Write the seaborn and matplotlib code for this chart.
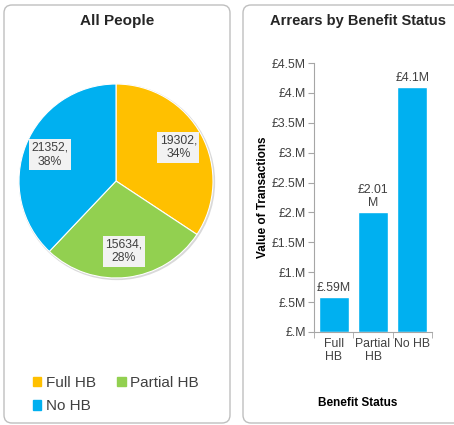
import matplotlib
matplotlib.use("Agg")
import matplotlib.pyplot as plt
import seaborn as sns
from matplotlib.patches import FancyBboxPatch, Patch, Circle
from matplotlib.ticker import FuncFormatter, MultipleLocator, FixedLocator

# data
pie_labels = ["Full HB", "Partial HB", "No HB"]
pie_counts = [19302, 15634, 21352]
pie_colors = ["#FFC000", "#92D050", "#00B0F0"]

bar_categories = ["Full\nHB", "Partial\nHB", "No HB"]
bar_values = [0.59, 2.01, 4.1]  # in £ millions
bar_labels = ["£.59M", "£2.01\nM", "£4.1M"]
bar_color = "#00B0F0"

sns.set_style("white")
plt.rcParams["font.family"] = ["Liberation Sans", "DejaVu Sans"]

W, H = 454, 425
fig = plt.figure(figsize=(W / 100, H / 100), dpi=100)

TXT = "#404040"


def px_rect(x, y_top, w, h):
    # pixel box (top-left origin) -> figure fraction rect
    return [x / W, 1 - (y_top + h) / H, w / W, h / H]


# panel frames
for x0, w in [(4, 226), (243, 230)]:
    box = FancyBboxPatch((x0 / 100, 2 / 100), w / 100, 418 / 100,
                         boxstyle="round,pad=0,rounding_size=0.08",
                         transform=fig.dpi_scale_trans,
                         fc="white", ec="#BFBFBF", lw=1, zorder=0)
    fig.add_artist(box)

# ---- pie panel ----
cx, cy, r = 116, 181, 97
ax1 = fig.add_axes(px_rect(cx - r - 3, cy - r - 3, 2 * r + 6, 2 * r + 6))
total = sum(pie_counts)


def pie_text(pct):
    val = int(round(pct * total / 100))
    return f"{val},\n{pct:.0f}%"


# faint shadow ring like the original
ax1.add_patch(Circle((0.01, -0.01), 1.012, fc="#D9D9D9", ec="none", zorder=0))
wedges, _, autotexts = ax1.pie(
    pie_counts, colors=pie_colors, startangle=90, counterclock=False,
    autopct=pie_text, pctdistance=0.73,
    wedgeprops=dict(edgecolor="white", linewidth=0.8),
)
for t in autotexts:
    t.set_fontsize(8.8)
    t.set_color(TXT)
    t.set_multialignment("center")
    t.set_bbox(dict(boxstyle="square,pad=0.2", fc="#F2F2F2", ec="none"))
lim = (r + 3) / r
ax1.set_xlim(-lim, lim)
ax1.set_ylim(-lim, lim)
ax1.set_aspect("equal")
fig.text(117 / W, 1 - 21 / H, "All People", ha="center", va="center",
         fontsize=11, fontweight="bold", color="#262626")

handles = [Patch(color=c) for c in pie_colors]
order = [0, 2, 1]
fig.legend([handles[i] for i in order], [pie_labels[i] for i in order],
           loc="upper left", bbox_to_anchor=(33 / W, 1 - 376 / H), ncol=2,
           frameon=False, fontsize=11, handlelength=0.55, handleheight=0.55,
           handletextpad=0.3, columnspacing=1.4, borderpad=0, borderaxespad=0,
           labelspacing=0.62, labelcolor=TXT)

# ---- bar panel ----
ax2 = fig.add_axes(px_rect(314, 63, 118, 269))
sns.barplot(x=bar_categories, y=bar_values, color=bar_color, saturation=1,
            width=0.76, ax=ax2)
ax2.bar_label(ax2.containers[0], labels=bar_labels, padding=2,
              fontsize=8.8, color=TXT, linespacing=1.15)
ax2.set_ylim(0, 4.5)
ax2.set_xlim(-0.5, 2.5)
ax2.yaxis.set_major_locator(MultipleLocator(0.5))


def money(v, pos):
    s = f"{v:.1f}".rstrip("0")
    if s.startswith("0"):
        s = s[1:]
    return f"£{s}M"


ax2.yaxis.set_major_formatter(FuncFormatter(money))
ax2.xaxis.set_minor_locator(FixedLocator([-0.5, 0.5, 1.5, 2.5]))
ax2.tick_params(axis="x", which="major", length=0, labelsize=8.8,
                labelcolor=TXT, pad=4)
ax2.tick_params(axis="x", which="minor", length=4, color="#A6A6A6",
                direction="out", bottom=True)
ax2.tick_params(axis="y", length=4, color="#A6A6A6", direction="out",
                left=True, labelsize=8.8, labelcolor=TXT, pad=2)
sns.despine(ax=ax2)
for s in ["left", "bottom"]:
    ax2.spines[s].set_color("#A6A6A6")
ax2.set_facecolor("none")

ax2.set_ylabel("Value of Transactions", fontsize=8.5, fontweight="bold",
               color="black")
ax2.yaxis.set_label_coords(-0.385, 0.5)
ax2.set_xlabel("Benefit Status", fontsize=8.5, fontweight="bold",
               color="black")
ax2.xaxis.set_label_coords(0.373, -0.24)

fig.text(358 / W, 1 - 21 / H, "Arrears by Benefit Status", ha="center",
         va="center", fontsize=10.5, fontweight="bold", color="#262626")

fig.savefig("out.png", dpi=100)
